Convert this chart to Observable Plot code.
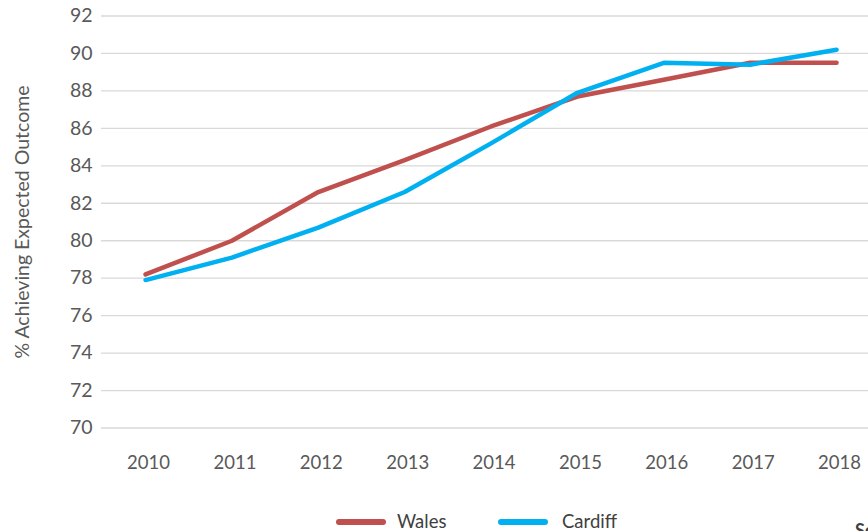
<!DOCTYPE html>
<html>
<head>
<meta charset="utf-8">
<script src="https://cdn.jsdelivr.net/npm/d3@7"></script>
<script src="https://cdn.jsdelivr.net/npm/@observablehq/plot@0.6"></script>
<style>
  html, body { margin: 0; padding: 0; background: #fff; }
  #wrap { position: relative; width: 868px; height: 531px; overflow: hidden; font-family: Lato, "Open Sans", sans-serif; }
  #chart svg { display: block; }
  .leg { position: absolute; top: 509px; font-size: 18.5px; color: #404040; line-height: 24px; }
  .sw { position: absolute; height: 6px; border-radius: 3px; top: 519px; }
  #src { position: absolute; left: 855px; top: 519px; font-weight: bold; font-size: 18px; color: #404040; white-space: nowrap; }
</style>
</head>
<body>
<div id="wrap">
  <div id="chart"></div>
  <div class="sw" style="left:336px;width:50px;background:#C0504D"></div>
  <div class="leg" style="left:397px">Wales</div>
  <div class="sw" style="left:498px;width:50px;background:#00B0F0"></div>
  <div class="leg" style="left:562px">Cardiff</div>
  <div id="src">Source</div>
</div>
<script>
const years = [2010, 2011, 2012, 2013, 2014, 2015, 2016, 2017, 2018];
const wales = [78.2, 80.0, 82.6, 84.3, 86.1, 87.7, 88.6, 89.5, 89.5];
const cardiff = [77.9, 79.1, 80.7, 82.6, 85.2, 87.9, 89.5, 89.4, 90.2];
const yTicks = [70, 72, 74, 76, 78, 80, 82, 84, 86, 88, 90, 92];
const seriesNames = ["Wales", "Cardiff"];
const seriesColors = ["#C0504D", "#00B0F0"];

const data = [
  ...years.map((y, i) => ({year: y, value: wales[i], series: "Wales"})),
  ...years.map((y, i) => ({year: y, value: cardiff[i], series: "Cardiff"}))
];

const chart = Plot.plot({
  width: 868,
  height: 485,
  marginLeft: 101,
  marginRight: 0,
  marginTop: 15.5,
  marginBottom: 57.5,
  style: {fontFamily: "Lato, 'Open Sans', sans-serif", fontSize: "18.5px", color: "#595959", background: "#fff"},
  x: {type: "linear", domain: [2009.49, 2018.37]},
  y: {domain: [70, 92]},
  color: {domain: seriesNames, range: seriesColors},
  marks: [
    Plot.gridY(yTicks, {stroke: "#d9d9d9", strokeOpacity: 1, strokeWidth: 1.3}),
    Plot.axisY(yTicks, {tickSize: 0, tickPadding: 9, fill: "#595959", label: "% Achieving Expected Outcome", labelAnchor: "center", labelOffset: 86, labelArrow: "none", fontSize: 19.5}),
    Plot.axisX(years, {tickSize: 0, tickPadding: 28, fill: "#595959", tickFormat: d => String(d), label: null, dx: 3}),
    Plot.line(data, {x: "year", y: "value", z: "series", stroke: "series", strokeWidth: 4.5, strokeLinecap: "round", strokeLinejoin: "round"})
  ]
});
document.getElementById("chart").appendChild(chart);
</script>
</body>
</html>
